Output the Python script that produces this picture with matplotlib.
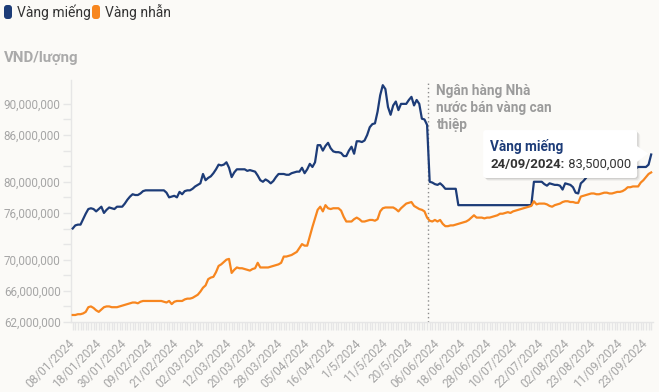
import numpy as np
import matplotlib
matplotlib.use("Agg")
import matplotlib.pyplot as plt
from matplotlib.patches import FancyBboxPatch, Polygon
from matplotlib.transforms import IdentityTransform
from matplotlib.ticker import FixedLocator, FuncFormatter

plt.rcParams['font.family'] = ['Roboto', 'DejaVu Sans']

# giá vàng (triệu VND / lượng), mỗi điểm là một phiên
vang_mieng = [
    74.0, 74.4, 74.5, 74.5, 75.2, 75.9, 76.5, 76.6, 76.5, 76.2,
    76.5, 76.8, 76.0, 76.4, 76.7, 76.6, 76.5, 76.8, 76.8, 76.8,
    77.2, 77.7, 78.1, 78.4, 78.3, 78.3, 78.5, 78.8, 78.9, 78.9,
    78.9, 78.9, 78.9, 78.9, 78.9, 78.9, 78.6, 78.0, 78.1, 78.2,
    78.0, 78.7, 78.4, 78.8, 78.9, 78.9, 79.1, 79.4, 79.6, 79.8,
    81.0, 80.2, 80.5, 80.7, 81.1, 81.6, 82.2, 82.1, 82.2, 82.5,
    81.8, 80.6, 81.2, 81.6, 81.6, 81.6, 81.6, 81.4, 81.5, 81.4,
    81.3, 80.8, 80.2, 80.0, 80.3, 80.1, 79.8, 80.1, 80.6, 81.0,
    81.0, 81.0, 80.9, 80.9, 81.1, 81.2, 81.3, 81.3, 81.8, 81.1,
    81.6, 82.3, 81.9, 82.5, 84.7, 84.7, 84.0, 84.6, 85.0, 84.3,
    83.9, 83.8, 83.8, 83.7, 83.3, 83.3, 84.0, 84.5, 83.6, 85.2,
    85.2, 85.1, 85.3, 86.0, 87.0, 87.4, 87.5, 89.0, 91.1, 92.4,
    91.9, 89.6, 88.6, 89.8, 90.3, 89.2, 90.0, 90.0, 90.0, 90.5,
    90.9, 89.8, 90.5, 90.0, 88.1, 88.0, 87.3, 80.0, 79.9, 79.7,
    79.6, 79.8, 79.5, 79.1, 79.1, 79.1, 79.1, 79.1, 77.0, 77.0,
    77.0, 77.0, 77.0, 77.0, 77.0, 77.0, 77.0, 77.0, 77.0, 77.0,
    77.0, 77.0, 77.0, 77.0, 77.0, 77.0, 77.0, 77.0, 77.0, 77.0,
    77.0, 77.0, 77.0, 77.0, 77.0, 77.0, 77.0, 80.0, 80.0, 80.0,
    80.0, 79.7, 79.5, 79.8, 79.7, 79.6, 79.6, 79.5, 79.0, 79.8,
    79.7, 79.6, 79.3, 78.6, 78.5, 79.8, 80.1, 80.5, 81.0, 81.0,
    81.0, 81.0, 81.0, 81.0, 81.0, 81.0, 81.5, 81.5, 81.5, 81.5,
    81.5, 81.5, 81.5, 81.5, 81.5, 81.5, 81.7, 81.9, 81.9, 81.9,
    81.9, 82.2, 83.5,
]
vang_nhan = [
    62.9, 62.9, 63.0, 63.0, 63.1, 63.3, 63.9, 64.0, 63.8, 63.5,
    63.3, 63.6, 63.9, 64.0, 64.0, 63.9, 63.9, 63.9, 64.0, 64.1,
    64.2, 64.3, 64.4, 64.5, 64.5, 64.4, 64.6, 64.7, 64.7, 64.7,
    64.7, 64.7, 64.7, 64.7, 64.7, 64.6, 64.5, 64.7, 64.3, 64.6,
    64.7, 64.7, 64.7, 64.9, 65.0, 65.0, 65.1, 65.3, 65.5, 65.9,
    66.4, 66.7, 67.5, 67.7, 67.8, 68.4, 69.2, 69.4, 69.7, 70.0,
    70.1, 68.3, 68.7, 69.0, 68.9, 68.9, 68.8, 68.7, 68.6, 68.8,
    68.9, 69.6, 69.0, 69.0, 69.0, 69.0, 69.1, 69.2, 69.3, 69.4,
    69.6, 70.4, 70.4, 70.5, 70.6, 70.8, 71.0, 71.5, 72.0, 71.8,
    71.8, 73.0, 74.2, 75.3, 76.4, 76.8, 76.2, 77.0, 76.6, 76.5,
    76.6, 76.6, 76.6, 76.3, 75.5, 74.9, 74.9, 74.9, 75.2, 75.4,
    75.2, 74.9, 74.9, 75.0, 75.1, 75.1, 75.0, 75.2, 76.2, 76.6,
    76.7, 76.7, 76.7, 76.7, 76.5, 76.2, 76.6, 76.9, 77.2, 77.3,
    77.4, 76.9, 76.7, 76.5, 76.4, 76.2, 75.4, 75.0, 74.9, 75.1,
    74.9, 75.1, 74.6, 74.3, 74.3, 74.4, 74.4, 74.5, 74.6, 74.7,
    74.8, 74.9, 75.1, 75.4, 75.7, 75.4, 75.4, 75.4, 75.3, 75.4,
    75.4, 75.5, 75.6, 75.7, 75.9, 75.9, 76.0, 76.1, 76.0, 76.2,
    76.3, 76.4, 76.5, 76.6, 76.7, 76.8, 76.9, 77.5, 77.1, 77.2,
    77.2, 77.2, 77.1, 76.9, 76.8, 77.0, 77.1, 77.2, 77.4, 77.5,
    77.5, 77.4, 77.4, 77.3, 77.3, 78.1, 78.2, 78.3, 78.4, 78.5,
    78.5, 78.4, 78.4, 78.5, 78.6, 78.6, 78.5, 78.5, 78.6, 78.7,
    78.7, 78.8, 79.0, 79.3, 79.3, 79.4, 79.4, 79.4, 79.9, 80.2,
    80.6, 81.0, 81.2,
]

x_labels = [
    "08/01/2024", "18/01/2024", "30/01/2024", "09/02/2024", "21/02/2024",
    "02/03/2024", "12/03/2024", "20/03/2024", "28/03/2024", "05/04/2024",
    "16/04/2024", "1/5/2024", "11/5/2024", "20/5/2024", "06/06/2024",
    "18/06/2024", "28/06/2024", "10/07/2024", "22/07/2024", "02/08/2024",
    "23/08/2024", "11/09/2024", "23/09/2024",
]
label_every = 10
last_date = "24/09/2024"

y_ticks = [62, 64, 66, 68, 70, 72, 74, 76, 78, 80, 82, 84, 86, 88, 90]
y_labeled = [62, 66, 70, 76, 80, 86, 90]

event_idx = 136.5
event_text = "Ngân hàng Nhà\nnước bán vàng can\nthiệp"

NAVY = "#1d3c78"
ORANGE = "#f7861f"
BG = "#fbfaf7"
GRID = "#e6e6e6"
LABEL = "#a6a6a6"

W, H = 659, 392
fig = plt.figure(figsize=(W / 100, H / 100), dpi=100, facecolor=BG)
ax = fig.add_axes([71 / W, 70 / H, 582 / W, 241.5 / H], facecolor=BG)

mieng = np.array(vang_mieng) * 1e6
nhan = np.array(vang_nhan) * 1e6
x = np.arange(len(mieng))

ax.plot(x, mieng, color=NAVY, lw=1.6, solid_joinstyle='round', zorder=3)
ax.plot(x, nhan, color=ORANGE, lw=1.6, solid_joinstyle='round', zorder=3)

ax.set_xlim(-0.65, len(x) - 0.3)
ax.set_ylim(62e6, 93e6)

# trục x: vạch mỗi phiên, nhãn mỗi 10 phiên
ax.xaxis.set_major_locator(FixedLocator(np.arange(len(x_labels)) * label_every))
ax.xaxis.set_minor_locator(FixedLocator(x))
ax.set_xticklabels(x_labels, rotation=45, ha='right', va='center',
                   rotation_mode='anchor', fontsize=8.6, color=LABEL)
ax.tick_params(axis='x', which='both', length=6, width=1, color=GRID, pad=8)

ax.yaxis.set_major_locator(FixedLocator([v * 1e6 for v in y_ticks]))
ax.yaxis.set_major_formatter(FuncFormatter(
    lambda v, p: f"{int(round(v)):,}" if round(v / 1e6) in y_labeled else ""))
ax.tick_params(axis='y', length=6, width=1, color=GRID, labelsize=8.4,
               labelcolor=LABEL, pad=1.5)

for s in ['top', 'right']:
    ax.spines[s].set_visible(False)
for s in ['left', 'bottom']:
    ax.spines[s].set_color(GRID)
    ax.spines[s].set_linewidth(1)

# đường sự kiện
ax.axvline(event_idx, color='#8c8c8c', ls=(0, (1, 2)), lw=1, zorder=2)
ax.annotate(event_text, xy=(event_idx, 1), xycoords=('data', 'axes fraction'),
            xytext=(8, -3), textcoords='offset pixels', ha='left', va='top',
            fontsize=9.8, fontweight='bold', color='#9b9b9b', linespacing=1.3)

# nhãn đơn vị trục y
fig.text(4 / W, 1 - 58 / H, "VND/lượng", fontsize=10.8, fontweight='bold',
         color='#aaaaaa', ha='left', va='center')

# chú thích
for x0, color, name in [(4, NAVY, "Vàng miếng"), (92, ORANGE, "Vàng nhẫn")]:
    fig.add_artist(FancyBboxPatch((x0, H - 19), 8, 14,
                                  boxstyle="round,pad=0,rounding_size=3",
                                  fc=color, ec='none', transform=IdentityTransform()))
    fig.text((x0 + 13) / W, 1 - 12 / H, name, fontsize=10, color='#333333',
             ha='left', va='center')

# tooltip ở điểm cuối
li = len(x) - 1
px, py = ax.transData.transform((li, mieng[li]))
bx0, bx1, by0, by1 = px - 168, px - 14, py - 23.5, py + 24.5
for d, a in [(3, 0.04), (2, 0.06), (1, 0.08)]:
    ax.add_artist(FancyBboxPatch((bx0 + d, by0 - d), bx1 - bx0, by1 - by0,
                                 boxstyle="round,pad=0,rounding_size=3",
                                 fc='black', ec='none', alpha=a, zorder=5,
                                 clip_on=False, transform=IdentityTransform()))
ax.add_artist(FancyBboxPatch((bx0, by0), bx1 - bx0, by1 - by0,
                             boxstyle="round,pad=0,rounding_size=3",
                             fc='white', ec='none', zorder=6, clip_on=False,
                             transform=IdentityTransform()))
ax.add_artist(Polygon([(bx1 - 1, py + 9), (px - 3, py + 1), (bx1 - 1, py - 8)],
                      closed=True, fc='white', ec='none', zorder=6, clip_on=False,
                      transform=IdentityTransform()))

ax.annotate("Vàng miếng", xy=(li, mieng[li]), xytext=(-161, 8.5),
            textcoords='offset pixels', ha='left', va='center', fontsize=9.8,
            fontweight='bold', color=NAVY, zorder=7, annotation_clip=False)
t_date = ax.annotate(last_date + ":", xy=(li, mieng[li]), xytext=(-161, -10),
                     textcoords='offset pixels', ha='left', va='center',
                     fontsize=9.5, fontweight='bold', color='#333333', zorder=7,
                     annotation_clip=False)
ax.annotate(f" {int(mieng[li]):,}", xy=(1, 0.5), xycoords=t_date, ha='left',
            va='center', fontsize=9.3, color='#333333', zorder=7)

fig.savefig("out.png", dpi=100, facecolor=BG)
